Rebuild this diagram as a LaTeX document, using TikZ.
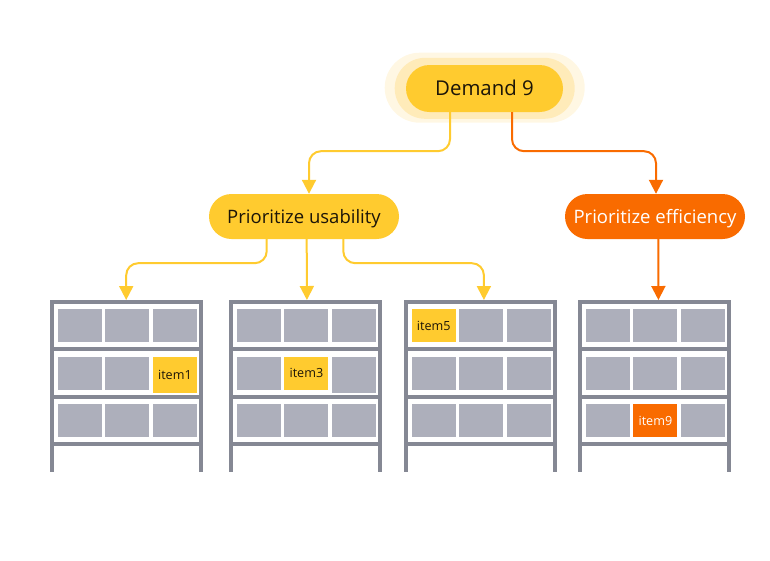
\documentclass[tikz,border=0pt]{standalone}
\usepackage{fontspec}
\setmainfont{Open Sans}
\usetikzlibrary{arrows.meta,shapes.misc}

\definecolor{demandyellow}{HTML}{FFCB2F}
\definecolor{haloinner}{HTML}{FFEBB9}
\definecolor{haloouter}{HTML}{FFF7E3}
\definecolor{effiorange}{HTML}{F96B00}
\definecolor{cellgrey}{HTML}{ADAFBB}
\definecolor{framegrey}{HTML}{858894}
\definecolor{inkdark}{HTML}{1C1508}

\tikzset{
  pill/.style={rounded rectangle,inner sep=0pt,text height=17pt,text depth=2.6pt,
    font=\fontsize{18.5}{20}\selectfont},
  yellowline/.style={draw=demandyellow,line width=2,rounded corners=12},
  orangeline/.style={draw=effiorange,line width=2,rounded corners=12},
  yellowarrow/.style={yellowline,-{Triangle[width=14,length=14]}},
  orangearrow/.style={orangeline,-{Triangle[width=14,length=14]}},
  cellbox/.style={anchor=north west,fill=cellgrey,minimum width=44,minimum height=33,
    inner sep=0pt,font=\fontsize{12.6}{14}\selectfont},
  beam/.style={fill=framegrey,minimum width=153,minimum height=4,inner sep=0pt,anchor=north west}
}

\newcommand{\drawrack}[2]{
  \begin{scope}[shift={(#2,0)}]
    \fill[framegrey] (0,300) rectangle (4,471.6);
    \fill[framegrey] (149,300) rectangle (153,471.6);
    \node[beam] (#1) at (0,300) {};
    \node[beam] (#1b) at (0,347) {};
    \node[beam] (#1c) at (0,395) {};
    \node[beam] (#1d) at (0,442) {};
    \foreach \cx/\col in {7.8/p,55.5/q,103.2/r}
      \foreach \cy/\row in {309/u,356.7/v,404/w}
        \node[cellbox] (#1\col\row) at (\cx,\cy) {};
  \end{scope}
}

\begin{document}
\begin{tikzpicture}[x=1pt,y=-1pt]
  \useasboundingbox (0,0) rectangle (770,560);

  \drawrack{rackone}{49.5}
  \drawrack{racktwo}{228.7}
  \drawrack{rackthree}{403.7}
  \drawrack{rackfour}{577.7}

  \node[cellbox,fill=demandyellow,minimum height=36,text=inkdark] (itemone) at (152.7,356.7) {item1};
  \node[cellbox,fill=demandyellow,text=inkdark] (itemthree) at (284.2,356.7) {item3};
  \node[cellbox,minimum height=36] (tallcell) at (331.9,356.7) {};
  \node[cellbox,fill=demandyellow,text=inkdark] (itemfive) at (411.5,309) {item5};
  \node[cellbox,fill=effiorange,text=white] (itemnine) at (633.2,404) {item9};

  \node[pill,fill=haloouter,minimum width=200,minimum height=70] (demandouter) at (484.7,87.7) {};
  \node[pill,fill=haloinner,minimum width=180,minimum height=61] (demandinner) at (484.7,88.3) {};
  \node[pill,fill=demandyellow,text=inkdark,font=\fontsize{20.4}{24}\selectfont,
    text height=15.5pt,text depth=2.5pt,
    minimum width=157,minimum height=47] (demand) at (484.5,88.5) {Demand 9};
  \node[pill,fill=demandyellow,text=inkdark,minimum width=190,minimum height=45] (usability) at (304,216.5) {Prioritize usability};
  \node[pill,fill=effiorange,text=white,minimum width=180,minimum height=45] (efficiency) at (655,216.5) {Prioritize efficiency};

  \draw[yellowarrow] ([xshift=-34.5]demand.south) -- ++(0,39) -| ([xshift=5]usability.north);
  \draw[orangearrow] ([xshift=27.5]demand.south) -- ++(0,39) -| ([xshift=1]efficiency.north);

  \draw[yellowarrow] ([xshift=-37.3]usability.south) -- ++(0,24) -| (rackone.north);
  \draw[yellowarrow] ([xshift=2.7]usability.south) -- ([xshift=1.5]racktwo.north);
  \draw[yellowarrow] ([xshift=39.3]usability.south) -- ++(0,24) -| ([xshift=3.5]rackthree.north);
  \draw[orangearrow] ([xshift=3.3]efficiency.south) -- ([xshift=4]rackfour.north);
\end{tikzpicture}
\end{document}
